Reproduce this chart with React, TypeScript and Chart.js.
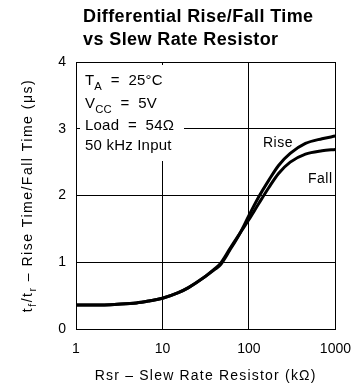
import React, { useEffect, useRef } from "react";
import { Chart, registerables } from "chart.js";

Chart.register(...registerables);

const resistanceK = [1, 2, 3, 5, 7, 10, 15, 20, 30, 40, 46, 60, 80, 100, 130, 170, 220, 300, 450, 700, 1000];
const riseTime = [0.36, 0.36, 0.37, 0.39, 0.42, 0.46, 0.54, 0.62, 0.77, 0.89, 0.95, 1.18, 1.45, 1.7, 1.98, 2.23, 2.45, 2.63, 2.78, 2.85, 2.89];
const fallTime = [0.36, 0.36, 0.37, 0.39, 0.42, 0.46, 0.54, 0.62, 0.77, 0.9, 0.97, 1.2, 1.45, 1.64, 1.88, 2.12, 2.33, 2.5, 2.62, 2.67, 2.69];
const xTicks = [1, 10, 100, 1000];
const yTicks = [0, 1, 2, 3, 4];

const titleLines = ["Differential Rise/Fall Time", "vs Slew Rate Resistor"];
const xTitle = "Rsr \u2013 Slew Rate Resistor (k\u03A9)";

const FONT = "'Liberation Sans', Arial, sans-serif";

function drawRich(ctx: CanvasRenderingContext2D, parts: [string, boolean][], x: number, y: number, size: number) {
  let cx = x;
  for (const [t, sub] of parts) {
    ctx.font = `${sub ? size * 0.75 : size}px ${FONT}`;
    ctx.fillText(t, cx, sub ? y + size * 0.3 : y);
    cx += ctx.measureText(t).width;
  }
  return cx - x;
}
function measureRich(ctx: CanvasRenderingContext2D, parts: [string, boolean][], size: number) {
  let w = 0;
  for (const [t, sub] of parts) {
    ctx.font = `${sub ? size * 0.75 : size}px ${FONT}`;
    w += ctx.measureText(t).width;
  }
  return w;
}

const decorPlugin = {
  id: "decor",
  beforeDatasetsDraw(chart: any) {
    const ctx: any = chart.ctx;
    ctx.save();
    // white box behind the conditions text
    ctx.fillStyle = "#fff";
    ctx.fillRect(80, 65, 104, 96);
    ctx.fillStyle = "#000";
    ctx.textBaseline = "alphabetic";
    ctx.textAlign = "left";
    ctx.letterSpacing = "0.2px";
    const size = 15;
    drawRich(ctx, [["T", false], ["A", true], ["  =  25\u00B0C", false]], 85, 85, size);
    drawRich(ctx, [["V", false], ["CC", true], ["  =  5V", false]], 85, 108, size);
    drawRich(ctx, [["Load  =  54\u03A9", false]], 85, 130, size);
    drawRich(ctx, [["50 kHz Input", false]], 85, 150, size);
    // series labels
    ctx.letterSpacing = "0.5px";
    ctx.font = `14px ${FONT}`;
    ctx.fillText("Rise", 263, 147);
    ctx.fillText("Fall", 308, 183);
    ctx.restore();
  },
  afterDraw(chart: any) {
    const ctx: any = chart.ctx;
    const { left, top, right, bottom } = chart.chartArea;
    ctx.save();
    ctx.fillStyle = "#000";
    // title
    ctx.font = `bold 18px ${FONT}`;
    ctx.letterSpacing = "0.4px";
    ctx.textAlign = "left";
    ctx.textBaseline = "alphabetic";
    ctx.fillText(titleLines[0], 83, 22);
    ctx.fillText(titleLines[1], 83, 45);
    // x title
    ctx.font = `14px ${FONT}`;
    ctx.letterSpacing = "1.2px";
    ctx.textAlign = "center";
    ctx.fillText(xTitle, (left + right) / 2, 380);
    // y title rotated
    const parts: [string, boolean][] = [
      ["t", false], ["f", true], ["/t", false], ["r", true],
      [" \u2013 Rise Time/Fall Time (\u03BCs)", false],
    ];
    const size = 14;
    ctx.letterSpacing = "1.5px";
    ctx.textAlign = "left";
    const w = measureRich(ctx, parts, size);
    ctx.translate(32, (top + bottom) / 2);
    ctx.rotate(-Math.PI / 2);
    drawRich(ctx, parts, -w / 2, 0, size);
    ctx.restore();
  },
};

export default function App() {
  const ref = useRef<HTMLCanvasElement>(null);
  useEffect(() => {
    if (!ref.current) return;
    const mk = (ys: number[]) => resistanceK.map((x, i) => ({ x, y: ys[i] }));
    const chart = new Chart(ref.current, {
      type: "line",
      data: {
        datasets: [
          { label: "Rise", data: mk(riseTime), borderColor: "#000", borderWidth: 3, pointRadius: 0, cubicInterpolationMode: "monotone", fill: false },
          { label: "Fall", data: mk(fallTime), borderColor: "#000", borderWidth: 3, pointRadius: 0, cubicInterpolationMode: "monotone", fill: false },
        ],
      },
      options: {
        animation: false,
        responsive: false,
        layout: { padding: { top: 62, right: 18, left: 0, bottom: 0 } },
        plugins: { legend: { display: false }, tooltip: { enabled: false }, title: { display: false } },
        scales: {
          x: {
            type: "logarithmic",
            min: 1,
            max: 1000,
            afterBuildTicks: (s: any) => { s.ticks = xTicks.map((v) => ({ value: v })); },
            afterFit: (s: any) => { s.height = 59; },
            grid: { color: "#000", lineWidth: 1, drawTicks: false },
            border: { color: "#000", width: 1 },
            ticks: { color: "#000", padding: 12, font: { family: FONT, size: 14 }, callback: (v: any) => String(v), maxRotation: 0, autoSkip: false },
          },
          y: {
            type: "linear",
            min: 0,
            max: 4,
            afterBuildTicks: (s: any) => { s.ticks = yTicks.map((v) => ({ value: v })); },
            afterFit: (s: any) => { s.width = 76; },
            grid: { color: "#000", lineWidth: 1, drawTicks: false },
            border: { color: "#000", width: 1 },
            ticks: { color: "#000", padding: 10, font: { family: FONT, size: 14 } },
          },
        },
      },
      plugins: [decorPlugin],
    } as any);
    return () => chart.destroy();
  }, []);
  return (
    <div style={{ position: "fixed", left: 0, top: 0, width: 363, height: 388, background: "#fff" }}>
      <canvas ref={ref} width={363} height={388} />
    </div>
  );
}
